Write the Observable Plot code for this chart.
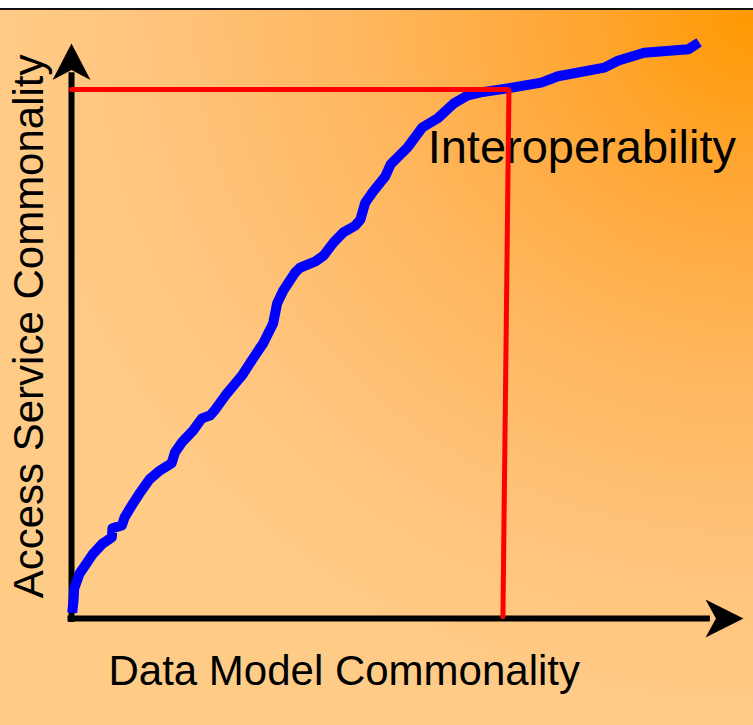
<!DOCTYPE html>
<html><head><meta charset="utf-8">
<script src="https://cdn.jsdelivr.net/npm/d3@7"></script>
<script src="https://cdn.jsdelivr.net/npm/@observablehq/plot@0.6"></script>
<style>
html,body{margin:0;padding:0;overflow:hidden;background:#fff;}
#wrap{position:relative;width:753px;height:725px;}
#bg{position:absolute;left:0;top:8px;width:753px;height:717px;border-top:2px solid #111;box-sizing:border-box;
background:radial-gradient(ellipse 790px 740px at 100% 0%, #FF9900 0%, #FFA633 22%, #FFB75F 50%, #FFC57E 78%, #FFCC88 100%);}
#chart{position:absolute;left:0;top:0;}
</style></head><body>
<div id="wrap"><div id="bg"></div><div id="chart"></div></div>
<script>
// Blue curve: Data Model Commonality (x) vs Access Service Commonality (y), 0..100 scale
const curveX = [0.1,0.3,0.4,1.2,3.1,4.6,6.0,6.1,7.5,7.9,9.0,10.1,11.6,13.1,14.9,15.4,16.4,18.1,19.4,20.6,21.3,23.1,24.6,25.4,27.0,28.5,30.0,30.6,31.5,33.3,34.0,36.3,37.5,39.0,40.4,42.2,43.0,43.7,44.9,46.7,47.5,50.0,52.2,54.5,56.9,59.0,60.9,64.9,69.9,72.4,79.3,81.3,85.2,91.8,93.4];
const curveY = [1.0,3.1,5.2,7.8,11.1,13.0,14.1,15.7,16.2,17.6,19.7,21.7,24.2,25.7,27.0,28.9,30.6,32.7,34.8,35.3,36.2,39.1,41.2,42.3,45.2,47.8,51.3,54.8,57.0,60.2,61.0,62.1,63.1,65.4,67.1,68.3,69.4,72.3,74.3,76.9,79.0,81.9,85.4,87.0,89.6,91.0,91.5,92.2,93.2,94.3,95.8,97.0,98.4,99.0,100.2];
// Red reference path (interoperability threshold)
const refX = [0, 65.1, 64.2];
const refY = [92, 92, 0.3];
// Texts
const xLabel = "Data Model Commonality";
const yLabel = "Access Service Commonality";
const noteLabel = "Interoperability";
// Axis extents
const xMax = 100, yMax = 100;

const curve = curveX.map((x, i) => ({x, y: curveY[i]}));
const ref = refX.map((x, i) => ({x, y: refY[i]}));
const axes = [
  {x1: 0, y1: -0.6, x2: 0, y2: yMax - 5},
  {x1: -0.6, y1: 0, x2: xMax - 5, y2: 0}
];

const arrowUp = {draw(ctx, size) {
  const r = Math.sqrt(size / Math.PI);
  ctx.moveTo(0, 0); ctx.lineTo(r, 1.92 * r); ctx.lineTo(0, 1.4 * r); ctx.lineTo(-r, 1.92 * r); ctx.closePath();
}};
const arrowRight = {draw(ctx, size) {
  const r = Math.sqrt(size / Math.PI);
  ctx.moveTo(0, 0); ctx.lineTo(-2.0 * r, -r); ctx.lineTo(-1.45 * r, 0); ctx.lineTo(-2.0 * r, r); ctx.closePath();
}};

const font = "'Liberation Sans', Arial, sans-serif";
const chart = Plot.plot({
  width: 753, height: 725,
  marginLeft: 71, marginRight: 10, marginTop: 43, marginBottom: 107,
  x: {domain: [0, xMax], axis: null},
  y: {domain: [0, yMax], axis: null},
  style: {background: "transparent", overflow: "visible", fontFamily: font},
  marks: [
    Plot.link(axes, {x1: "x1", y1: "y1", x2: "x2", y2: "y2", stroke: "black", strokeWidth: 6}),
    Plot.dot([{x: 0, y: yMax}], {x: "x", y: "y", symbol: arrowUp, r: 19, fill: "black", stroke: "none"}),
    Plot.dot([{x: xMax, y: 0}], {x: "x", y: "y", symbol: arrowRight, r: 19, fill: "black", stroke: "none"}),
    Plot.line(curve, {x: "x", y: "y", stroke: "#0000FF", strokeWidth: 10, strokeLinejoin: "round", strokeLinecap: "butt"}),
    Plot.text([noteLabel], {x: 53, y: 79.3, text: d => d, textAnchor: "start", lineAnchor: "bottom", fontSize: 47, fill: "black", fontFamily: font}),
    Plot.text([xLabel], {x: 5.5, y: -11.65, text: d => d, textAnchor: "start", lineAnchor: "bottom", fontSize: 42, fill: "black", fontFamily: font}),
    Plot.text([yLabel], {x: -4.17, y: 50.8, text: d => d, textAnchor: "middle", lineAnchor: "bottom", rotate: -90, fontSize: 42, fill: "black", fontFamily: font}),
    Plot.line(ref, {x: "x", y: "y", stroke: "#FF0000", strokeWidth: 5, strokeLinejoin: "miter"})
  ]
});
document.getElementById("chart").appendChild(chart);
</script>
</body></html>
